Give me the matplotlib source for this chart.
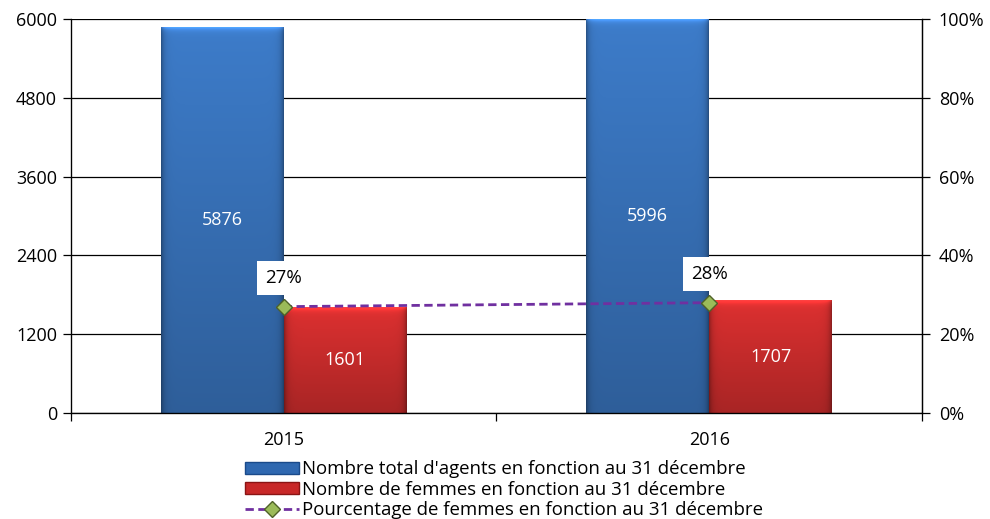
import numpy as np
import matplotlib
matplotlib.use("Agg")
import matplotlib.pyplot as plt
from matplotlib.patches import Rectangle
from matplotlib.lines import Line2D
from matplotlib.colors import to_rgb

plt.rcParams['font.family'] = ['Open Sans', 'DejaVu Sans']

years = ["2015", "2016"]
total_agents = [5876, 5996]
women = [1601, 1707]
pct_women = [27, 28]
left_ticks = [0, 1200, 2400, 3600, 4800, 6000]
right_ticks = [0, 20, 40, 60, 80, 100]
labels = ["Nombre total d'agents en fonction au 31 décembre",
          "Nombre de femmes en fonction au 31 décembre",
          "Pourcentage de femmes en fonction au 31 décembre"]

FS = 13

fig = plt.figure(figsize=(9.9, 5.19), dpi=100)
ax = fig.add_axes([0.0717, 0.2042, 0.8596, 0.7592])
ax.set_xlim(-0.5, 1.5)
ax.set_ylim(0, 6000)

x = np.arange(len(years))
w = 0.289
PX_PER_UNIT = 394 / 6000
BAR_PX = 123


def shaded_image(h, base):
    ny = max(int(h * PX_PER_UNIT), 4)
    nx = BAR_PX
    base = np.array(to_rgb(base))
    xs = np.arange(nx)
    ys = np.arange(ny)  # 0 = top row
    dx = np.minimum(xs, nx - 1 - xs)
    side = 1 - 0.32 * np.exp(-dx / 3.0)
    vert = 1.05 - 0.25 * (ys / ny)
    top = 1 + 0.35 * np.exp(-ys / 2.5)
    fac = side[None, :] * (vert * top)[:, None]
    img = np.clip(base[None, None, :] * fac[:, :, None], 0, 1)
    return img


def grad_bar(xc, h, base, label):
    img = shaded_image(h, base)
    ax.imshow(img, aspect="auto", extent=[xc - w / 2, xc + w / 2, 0, h],
              zorder=2, interpolation="bilinear")
    ax.text(xc, h / 2, label, ha="center", va="center", color="white", fontsize=FS, zorder=5)


for i in range(len(years)):
    grad_bar(x[i] - w / 2, total_agents[i], "#3a76c0", str(total_agents[i]))
    grad_bar(x[i] + w / 2, women[i], "#d22e2e", str(women[i]))

ax.set_xlim(-0.5, 1.5)
ax.set_ylim(0, 6000)
ax.set_yticks(left_ticks)
ax.set_yticklabels([str(t) for t in left_ticks], fontsize=FS)
ax.grid(axis="y", color="black", lw=0.9, zorder=0)
ax.set_axisbelow(True)
ax.set_xticks(x)
ax.set_xticklabels(years, fontsize=FS)
ax.set_xticks([-0.5, 0.5, 1.5], minor=True)
ax.tick_params(axis="x", which="major", length=0, pad=13)
ax.tick_params(axis="x", which="minor", length=6, width=0.9, direction="out")
ax.tick_params(axis="y", length=6, width=0.9, direction="out", pad=4)
ax.spines["top"].set_visible(False)
for s in ["left", "right", "bottom"]:
    ax.spines[s].set_linewidth(0.9)

ax2 = ax.twinx()
ax2.set_ylim(0, 100)
ax2.set_yticks(right_ticks)
ax2.set_yticklabels([f"{t}%" for t in right_ticks], fontsize=FS)
ax2.tick_params(axis="y", length=6, width=0.9, direction="out", pad=6)
ax2.spines["top"].set_visible(False)
ax2.spines["right"].set_linewidth(0.9)
ax2.plot(x, pct_women, color="#7030a0", ls=(0, (3, 1.6)), lw=2, marker="D", markersize=8,
         markerfacecolor="#9bbb59", markeredgecolor="#4f6228", markeredgewidth=1, zorder=6)
for i in range(len(years)):
    ax2.text(x[i], pct_women[i] + 7.3, f"{pct_women[i]}%", ha="center", va="center", fontsize=13.5,
             bbox=dict(facecolor="white", edgecolor="none", pad=6), zorder=7)

handles = [Rectangle((0, 0), 1, 1, facecolor="#2f68b0", edgecolor="#1a4a8a"),
           Rectangle((0, 0), 1, 1, facecolor="#c82828", edgecolor="#8a1414"),
           Line2D([0], [0], color="#7030a0", ls=(0, (3, 1.6)), lw=2, marker="D", markersize=8,
                  markerfacecolor="#9bbb59", markeredgecolor="#4f6228")]
fig.legend(handles, labels, loc="lower center", bbox_to_anchor=(0.509, -0.025), ncol=1, frameon=False,
           fontsize=13.4, handlelength=2.95, handleheight=0.6, handletextpad=0.15, labelspacing=0.12,
           borderpad=0.2)

fig.savefig("out.png", dpi=100)
